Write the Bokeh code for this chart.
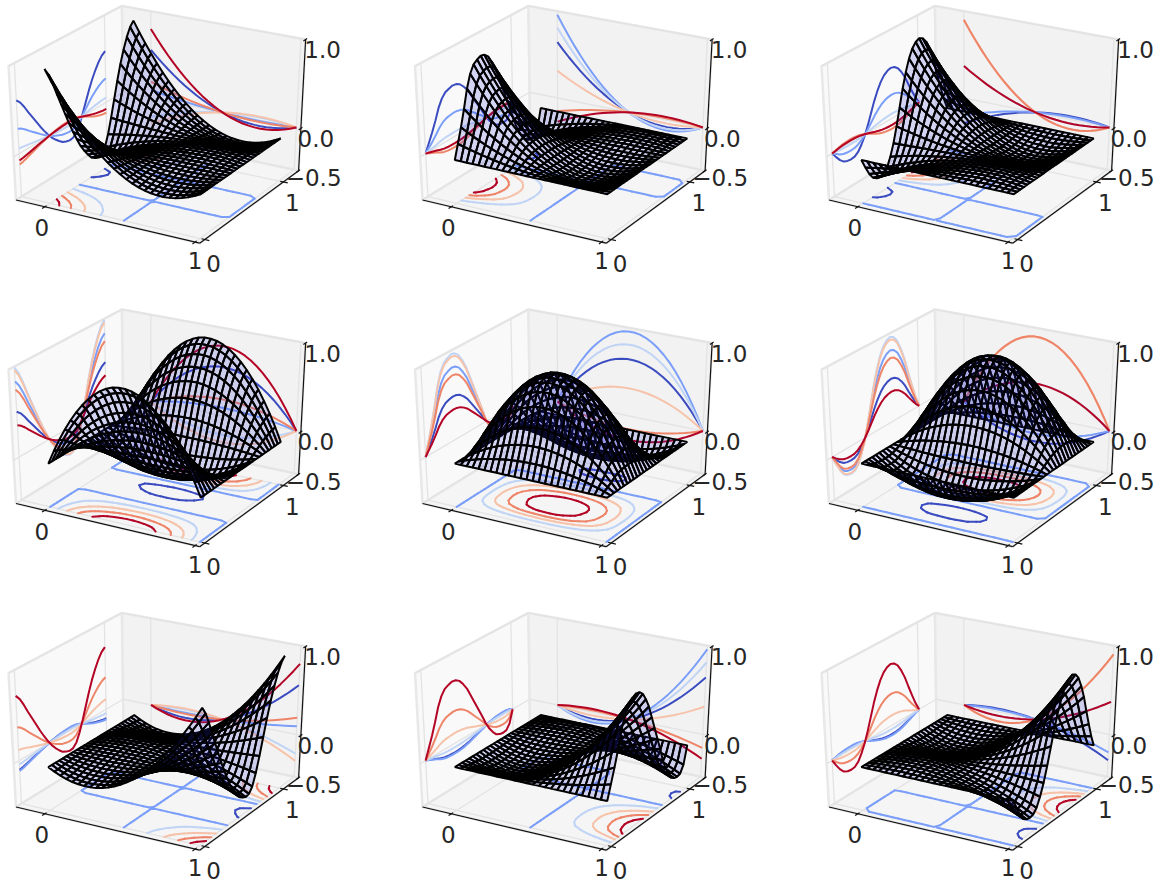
import numpy as np
from bokeh.plotting import figure
from bokeh.layouts import gridplot
from bokeh.embed import file_html
from bokeh.resources import INLINE
from bokeh.core.properties import value

# ---- values ----
node = [0.00, 0.04, 0.08, 0.12, 0.16, 0.20, 0.24, 0.28, 0.32, 0.36, 0.40, 0.44, 0.48,
        0.52, 0.56, 0.60, 0.64, 0.68, 0.72, 0.76, 0.80, 0.84, 0.88, 0.92, 0.96, 1.00]
# profile across x, one per row of panels
f0 = [1.0, .883, .773, .669, .571, .48, .395, .317, .245, .179, .12, .067, .021,
      -.019, -.053, -.08, -.101, -.115, -.123, -.125, -.12, -.109, -.091, -.067, -.037, 0.0]
f1 = [0.0, .154, .294, .422, .538, .64, .73, .806, .87, .922, .96, .986, .998,
      .998, .986, .96, .922, .87, .806, .73, .64, .538, .422, .294, .154, 0.0]
f2 = [0.0, -.037, -.067, -.091, -.109, -.12, -.125, -.123, -.115, -.101, -.08, -.053, -.019,
      .021, .067, .12, .179, .245, .317, .395, .48, .571, .669, .773, .883, 1.0]
# profile across y, one per column of panels
g0 = [1.0, .92, .80, .66, .53, .40, .27, .15, .04, -.06, -.14, -.21, -.27,
      -.30, -.32, -.31, -.25, -.12, .05, .24, .43, .60, .74, .86, .95, 1.0]
g1 = [.001, .16, .32, .50, .70, .84, .92, .95, .97, .96, .92, .84, .74,
      .60, .46, .32, .18, .03, -.09, -.18, -.25, -.28, -.29, -.28, -.20, 0.0]
g2 = [.001, -.11, -.21, -.28, -.31, -.32, -.31, -.26, -.16, -.03, .14, .33, .52,
      .68, .81, .90, .95, .97, .95, .89, .78, .64, .46, .29, .13, 0.0]
floor_levels = [-0.26, 0.0, 0.205, 0.41, 0.615, 0.82]
wall_levels = [0.15, 0.30, 0.45, 0.60, 0.75, 0.90]
level_colors = ["#3b4cc0", "#7b9ff9", "#c0d4f5", "#f6c3aa", "#ee8468", "#b40426"]
x_ticks = [0, 1]
x_tick_labels = ["0", "1"]
y_ticks = [0, 1]
y_tick_labels = ["0", "1"]
z_ticks = [-0.5, 0.0, 1.0]
z_tick_labels = ["\u22120.5", "0.0", "1.0"]
xlim = (-0.2, 1.03)
ylim = (-0.06, 1.21)
zlim = (-0.5, 1.0)

# ---- layout ----
COL_W = [406, 407, 351]
ROW_H = [303, 304, 276]
COL_X = [0, 406, 813]
ROW_Y = [0, 303, 607]
SX, SY = 212.0, 153.0
OX = [159.0, 565.5, 972.0]
OY = [120.0, 423.5, 727.0]
FONT = value("DejaVu Sans")

# ---- mplot3d style projection, elevation 30, azimuth -60, distance 10 ----
U = np.array([0.8660254, 0.5, 0.0])
V = np.array([-0.25, 0.4330127, 0.8660254])
N = np.array([0.4330127, -0.75, 0.5])
DIST = 10.0


def view(x, y, z):
    x, y, z = np.asarray(x, float), np.asarray(y, float), np.asarray(z, float)
    dx = (x - xlim[0]) / (xlim[1] - xlim[0]) - 0.5
    dy = (y - ylim[0]) / (ylim[1] - ylim[0]) - 0.5
    dz = (z - zlim[0]) / (zlim[1] - zlim[0]) - 0.5
    xv = dx * U[0] + dy * U[1] + dz * U[2]
    yv = dx * V[0] + dy * V[1] + dz * V[2]
    zv = dx * N[0] + dy * N[1] + dz * N[2]
    s = DIST / (DIST - zv)
    return xv * s, yv * s, zv


def proj(x, y, z):
    a, b, _ = view(x, y, z)
    return a, b


def contour_segments(xs, ys, Z, level):
    segs = []
    nx, ny = Z.shape
    for i in range(nx - 1):
        for j in range(ny - 1):
            corners = [(i, j), (i + 1, j), (i + 1, j + 1), (i, j + 1)]
            pts = []
            for k in range(4):
                a, b = corners[k], corners[(k + 1) % 4]
                za, zb = Z[a], Z[b]
                if (za > level) != (zb > level):
                    t = (level - za) / (zb - za)
                    pts.append((xs[a[0]] + t * (xs[b[0]] - xs[a[0]]),
                                ys[a[1]] + t * (ys[b[1]] - ys[a[1]])))
            for k in range(0, len(pts) - 1, 2):
                segs.append((pts[k], pts[k + 1]))
    return segs


def line3d(p, a, b, **kw):
    px, py = proj([a[0], b[0]], [a[1], b[1]], [a[2], b[2]])
    p.line(px, py, **kw)


def panel(r, c, f, g):
    w, h = COL_W[c], ROW_H[r]
    x_range = ((COL_X[c] - OX[c]) / SX, (COL_X[c] + w - OX[c]) / SX)
    y_range = ((OY[r] - ROW_Y[r] - h) / SY, (OY[r] - ROW_Y[r]) / SY)
    p = figure(width=w, height=h, x_range=x_range, y_range=y_range,
               output_backend="svg", toolbar_location=None,
               x_axis_location=None, y_axis_location=None, min_border=0)
    p.grid.visible = False
    p.outline_line_color = None
    x0, x1 = xlim
    y0, y1 = ylim
    z0, z1 = zlim

    # panes
    panes = [([x0, x0, x0, x0], [y0, y1, y1, y0], [z0, z0, z1, z1], "#f9f9f9"),
             ([x0, x1, x1, x0], [y1, y1, y1, y1], [z0, z0, z1, z1], "#f2f2f2"),
             ([x0, x1, x1, x0], [y0, y0, y1, y1], [z0, z0, z0, z0], "#f5f5f5")]
    for px_, py_, pz_, col in panes:
        a, b = proj(px_, py_, pz_)
        p.patch(a, b, fill_color=col, line_color="#e8e8e8", line_width=2.5)

    # grid
    gl = dict(line_color="#e3e3e3", line_width=1.3)
    for t in x_ticks:
        line3d(p, (t, y0, z0), (t, y1, z0), **gl)
        line3d(p, (t, y1, z0), (t, y1, z1), **gl)
    for t in y_ticks:
        line3d(p, (x0, t, z0), (x1, t, z0), **gl)
        line3d(p, (x0, t, z0), (x0, t, z1), **gl)
    for t in z_ticks:
        line3d(p, (x0, y0, t), (x0, y1, t), **gl)
        line3d(p, (x0, y1, t), (x1, y1, t), **gl)

    # axis lines
    al = dict(line_color="#111111", line_width=1.2)
    line3d(p, (x0, y0, z0), (x1, y0, z0), **al)
    line3d(p, (x1, y0, z0), (x1, y1, z0), **al)
    line3d(p, (x1, y1, z0), (x1, y1, z1), **al)

    # ticks and tick labels
    tl = dict(line_color="#111111", line_width=1.2)
    ts = dict(text_font=FONT, text_font_size="23px", text_color="#262626",
              text_align="center", text_baseline="middle")
    for t, lab, ox, oy in zip(x_ticks, x_tick_labels, [-3, 0], [21, 18.5]):
        line3d(p, (t, y0 - 0.03, z0), (t, y0 + 0.02, z0), **tl)
        a, b = proj(t, y0, z0)
        p.text([float(a)], [float(b)], text=[lab], x_offset=ox, y_offset=oy, **ts)
    for t, lab, ox, oy in zip(y_ticks, y_tick_labels, [9, 9], [23.5, 21]):
        line3d(p, (x1 - 0.02, t, z0), (x1 + 0.03, t, z0), **tl)
        a, b = proj(x1, t, z0)
        p.text([float(a)], [float(b)], text=[lab], x_offset=ox, y_offset=oy, **ts)
    for t, lab, ox, oy in zip(z_ticks, z_tick_labels, [15, 15, 17], [7, 10, 10]):
        line3d(p, (x1, y1 - 0.03, t), (x1, y1 + 0.02, t), **tl)
        a, b = proj(x1, y1, t)
        p.text([float(a)], [float(b)], text=[lab], x_offset=ox, y_offset=oy, **ts)

    xs = np.array(node)
    ys = np.array(node)
    Z = np.outer(f, g)

    # floor contours
    for lev, col in zip(floor_levels, level_colors):
        segs = contour_segments(xs, ys, Z, lev)
        if segs:
            mx, my = [], []
            for s0, s1 in segs:
                a, b = proj([s0[0], s1[0]], [s0[1], s1[1]], [z0, z0])
                mx.append(list(a))
                my.append(list(b))
            p.multi_line(mx, my, line_color=col, line_width=2.0, line_cap="round")

    # wall sections
    for lev, col in zip(wall_levels, level_colors):
        amp = float(np.interp(lev, xs, f))
        a, b = proj(np.full_like(ys, x0), ys, amp * np.array(g))
        p.line(a, b, line_color=col, line_width=2.0, line_join="round")
    for lev, col in zip(wall_levels, level_colors):
        amp = float(np.interp(lev, ys, g))
        a, b = proj(xs, np.full_like(xs, y1), amp * np.array(f))
        p.line(a, b, line_color=col, line_width=2.0, line_join="round")

    # surface, far faces first
    X, Y = np.meshgrid(xs, ys, indexing="ij")
    qx, qy = proj(X, Y, Z)
    _, _, qd = view(X, Y, Z)
    faces = []
    for i in range(len(xs) - 1):
        for j in range(len(ys) - 1):
            idx = [(i, j), (i + 1, j), (i + 1, j + 1), (i, j + 1)]
            faces.append((float(np.mean([qd[k] for k in idx])), idx))
    faces.sort(key=lambda t: t[0])
    p.patches([[float(qx[k]) for k in idx] for _, idx in faces],
              [[float(qy[k]) for k in idx] for _, idx in faces],
              fill_color="#2828d0", fill_alpha=0.18, line_color="#000000", line_width=2.0)
    return p


rows = []
for r, f in enumerate([f0, f1, f2]):
    rows.append([panel(r, c, f, g) for c, g in enumerate([g0, g1, g2])])

grid = gridplot(rows, toolbar_location=None)
open("out.html", "w").write(file_html(grid, INLINE))
